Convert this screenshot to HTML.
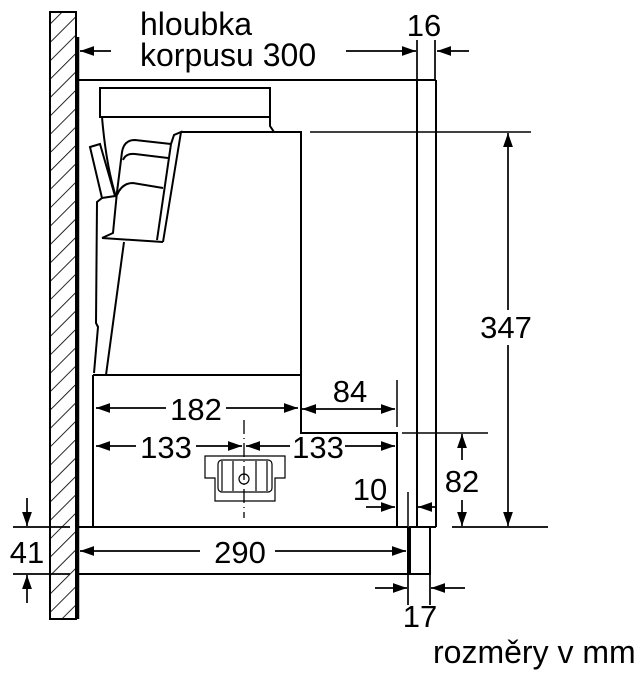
<!DOCTYPE html>
<html><head><meta charset="utf-8"><style>
html,body{margin:0;padding:0;background:#fff;}
svg{display:block;}
text{font-family:"Liberation Sans",sans-serif;fill:#000;}
</style></head><body>
<svg width="644" height="678" viewBox="0 0 644 678" xmlns="http://www.w3.org/2000/svg">
<defs>
<pattern id="h" width="13" height="13" patternUnits="userSpaceOnUse" patternTransform="rotate(45)">
<rect width="13" height="13" fill="#fff"/><line x1="0" y1="0" x2="0" y2="13" stroke="#000" stroke-width="1.7"/>
</pattern>
<marker id="a" viewBox="0 0 10 10" refX="10" refY="5" markerWidth="14" markerHeight="14" markerUnits="userSpaceOnUse" orient="auto-start-reverse">
<path d="M0,1.5 L10,5 L0,8.5 Z" fill="#000"/></marker>
</defs>
<g fill="none" stroke="#000" stroke-width="2">
<rect x="50" y="12" width="26" height="607" fill="url(#h)"/>
<line x1="78" y1="37" x2="78" y2="619" stroke-width="2.5"/>
<line x1="78" y1="80" x2="436" y2="80"/>
<line x1="417" y1="80" x2="417" y2="527"/>
<line x1="436" y1="80" x2="436" y2="527"/>
<line x1="417" y1="527" x2="436" y2="527"/>
<rect x="100" y="88" width="170" height="29"/>
<path d="M270,117 L270,126 L274,132"/>
<path d="M181,132 L301,132 L301,375"/>
<path d="M93,375 L301,375 L301,433 L397,433 L397,527"/>
<line x1="93" y1="375" x2="93" y2="527"/>
<line x1="397" y1="380" x2="397" y2="427" stroke-width="1.5"/>
<line x1="402" y1="433" x2="488" y2="433" stroke-width="1.5"/>
<line x1="310" y1="132" x2="531" y2="132" stroke-width="1.5"/>
<path d="M102,117 Q106,165 116,197"/>
<path d="M90,147 L100,144 L115,196 L102,198 Z"/>
<path d="M102,198 L97,202 L96,323 L98,327 L94,373"/>
<path d="M124,242 L106,375"/>
<path d="M102,238 L113,233 L117,192 L122,152 Q124,140 135,140 L171,144"/>
<path d="M102,238 L163,242"/>
<path d="M123,160 Q126,153 135,154 L168,158"/>
<path d="M117,195 Q122,183 133,183 L163,188"/>
<path d="M171,144 L157,240"/>
<path d="M171,144 L174,135 L181,132 L163,242"/>
<path d="M78,527 L408,527"/>
<path d="M78,574 L408,574 L408,527"/>
<rect x="410" y="527" width="20" height="47"/>
<line x1="408" y1="492" x2="408" y2="527" stroke-width="1.5"/>
<path d="M205,456 L285,456 L285,478 L275,478 L275,501 L215,501 L215,478 L205,478 Z" stroke-width="1.2"/>
<rect x="218" y="460" width="54" height="32" rx="4" stroke-width="1.2"/>
<line x1="222" y1="461" x2="222" y2="491" stroke-width="1.2"/>
<line x1="233" y1="461" x2="233" y2="491" stroke-width="1.2"/>
<line x1="256" y1="461" x2="256" y2="491" stroke-width="1.2"/>
<line x1="267" y1="461" x2="267" y2="491" stroke-width="1.2"/>
<circle cx="244" cy="479" r="5" stroke-width="1.2"/>
<line x1="244" y1="420" x2="244" y2="518" stroke-width="1.3" stroke-dasharray="14,4,1,4"/>
</g>
<g stroke="#000" stroke-width="1.7" fill="none">
<line x1="111" y1="51" x2="80" y2="51" marker-end="url(#a)"/>
<line x1="346" y1="51" x2="416" y2="51" marker-end="url(#a)"/>
<line x1="469" y1="51" x2="437" y2="51" marker-end="url(#a)"/>
<line x1="417" y1="40" x2="417" y2="80"/>
<line x1="435" y1="40" x2="435" y2="80"/>
<line x1="508" y1="310" x2="508" y2="133" marker-end="url(#a)"/>
<line x1="508" y1="345" x2="508" y2="526" marker-end="url(#a)"/>
<line x1="452" y1="527" x2="548" y2="527"/>
<line x1="462" y1="460" x2="462" y2="434" marker-end="url(#a)"/>
<line x1="462" y1="500" x2="462" y2="526" marker-end="url(#a)"/>
<line x1="166" y1="408" x2="96" y2="408" marker-end="url(#a)"/>
<line x1="226" y1="408" x2="298" y2="408" marker-end="url(#a)"/>
<line x1="302" y1="409" x2="395" y2="409" marker-start="url(#a)" marker-end="url(#a)"/>
<line x1="136" y1="446" x2="96" y2="446" marker-end="url(#a)"/>
<line x1="196" y1="446" x2="242" y2="446" marker-end="url(#a)"/>
<line x1="290" y1="446" x2="246" y2="446" marker-end="url(#a)"/>
<line x1="345" y1="446" x2="395" y2="446" marker-end="url(#a)"/>
<line x1="366" y1="507" x2="395" y2="507" marker-end="url(#a)"/>
<line x1="436" y1="507" x2="418" y2="507" marker-end="url(#a)"/>
<line x1="200" y1="551" x2="80" y2="551" marker-end="url(#a)"/>
<line x1="275" y1="551" x2="406" y2="551" marker-end="url(#a)"/>
<line x1="13" y1="527" x2="70" y2="527"/>
<line x1="13" y1="574" x2="70" y2="574"/>
<line x1="27" y1="498" x2="27" y2="526" marker-end="url(#a)"/>
<line x1="27" y1="603" x2="27" y2="575" marker-end="url(#a)"/>
<line x1="375" y1="588" x2="407" y2="588" marker-end="url(#a)"/>
<line x1="465" y1="588" x2="431" y2="588" marker-end="url(#a)"/>
<line x1="408" y1="574" x2="408" y2="605"/>
<line x1="430" y1="574" x2="430" y2="605"/>
</g>
<g font-size="31">
<text x="140" y="35" font-size="32">hloubka</text>
<text x="140" y="66" font-size="32">korpusu 300</text>
<text x="424" y="36" text-anchor="middle">16</text>
<text x="506" y="338" text-anchor="middle">347</text>
<text x="196" y="420" text-anchor="middle">182</text>
<text x="350" y="402" text-anchor="middle">84</text>
<text x="166" y="458" text-anchor="middle">133</text>
<text x="318" y="458" text-anchor="middle">133</text>
<text x="370" y="500" text-anchor="middle">10</text>
<text x="462" y="492" text-anchor="middle">82</text>
<text x="240" y="563" text-anchor="middle">290</text>
<text x="27" y="563" text-anchor="middle">41</text>
<text x="420" y="627" text-anchor="middle">17</text>
<text x="433" y="663" font-size="32">rozměry v mm</text>
</g>
</svg>
</body></html>
